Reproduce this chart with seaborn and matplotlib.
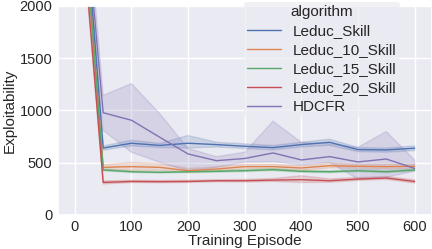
import pandas as pd
import matplotlib
matplotlib.use("Agg")
import matplotlib.pyplot as plt
import seaborn as sns

sns.set_theme(style="darkgrid")
plt.rcParams['font.family'] = ['Liberation Sans', 'DejaVu Sans']

episodes = [0, 50, 100, 150, 200, 250, 300, 350, 400, 450, 500, 550, 600]
algorithms = ['Leduc_Skill', 'Leduc_10_Skill', 'Leduc_15_Skill', 'Leduc_20_Skill', 'HDCFR']

# line value, lower and upper edge of the shaded band
skill_mid = [4100, 640, 686, 665, 686, 673, 657, 644, 673, 695, 625, 622, 638]
skill_lo = [3950, 620, 660, 645, 640, 650, 635, 622, 650, 665, 605, 600, 615]
skill_hi = [4250, 660, 715, 685, 760, 695, 680, 665, 695, 725, 645, 640, 660]

s10_mid = [3950, 455, 462, 455, 423, 439, 462, 462, 449, 471, 465, 462, 465]
s10_lo = [3800, 435, 425, 425, 405, 420, 440, 440, 425, 450, 445, 440, 445]
s10_hi = [4100, 480, 503, 490, 445, 460, 485, 485, 470, 495, 485, 485, 485]

s15_mid = [3950, 430, 413, 407, 413, 417, 423, 433, 417, 413, 423, 413, 430]
s15_lo = [3850, 420, 405, 400, 405, 408, 413, 423, 407, 403, 413, 403, 420]
s15_hi = [4050, 440, 421, 415, 421, 426, 433, 443, 427, 423, 433, 423, 440]

s20_mid = [3600, 311, 320, 318, 320, 327, 327, 333, 337, 327, 343, 353, 320]
s20_lo = [3500, 295, 310, 308, 310, 317, 315, 320, 310, 312, 330, 340, 305]
s20_hi = [3700, 325, 332, 330, 332, 337, 340, 348, 375, 345, 358, 368, 335]

hdcfr_mid = [4000, 978, 906, 743, 583, 519, 540, 593, 526, 558, 507, 535, 445]
hdcfr_lo = [3700, 808, 599, 503, 423, 455, 505, 510, 480, 503, 343, 359, 420]
hdcfr_hi = [4300, 1144, 1257, 968, 635, 558, 600, 897, 695, 680, 647, 798, 526]

series = {
    'Leduc_Skill': (skill_lo, skill_mid, skill_hi),
    'Leduc_10_Skill': (s10_lo, s10_mid, s10_hi),
    'Leduc_15_Skill': (s15_lo, s15_mid, s15_hi),
    'Leduc_20_Skill': (s20_lo, s20_mid, s20_hi),
    'HDCFR': (hdcfr_lo, hdcfr_mid, hdcfr_hi),
}

rows = []
for name in algorithms:
    for run in series[name]:
        for ep, v in zip(episodes, run):
            rows.append({'Training Episode': ep, 'Exploitability': v, 'algorithm': name})
df = pd.DataFrame(rows)

fig = plt.figure(figsize=(4.32, 2.49), dpi=100)
ax = fig.add_axes([0.134, 0.137, 0.865, 0.839])
sns.lineplot(data=df, x='Training Episode', y='Exploitability', hue='algorithm',
             hue_order=algorithms, estimator='median', errorbar=('pi', 100),
             linewidth=1, ax=ax)

ax.set_ylim(0, 2000)
ax.set_yticks([0, 500, 1000, 1500, 2000])
ax.set_xticks([0, 100, 200, 300, 400, 500, 600])
ax.tick_params(labelsize=10.5, length=0, pad=4)
ax.set_xlabel('Training Episode', fontsize=11, labelpad=0)
ax.set_ylabel('Exploitability', fontsize=11, labelpad=2)

ax.legend(title='algorithm', loc='upper right', bbox_to_anchor=(0.935, 1.055),
          fontsize=11, title_fontsize=11, labelspacing=0.33,
          handlelength=2.2, borderpad=0.2, frameon=True,
          facecolor='#EAEAF2', edgecolor='none', framealpha=0.7)

fig.savefig('out.png', dpi=100)
plt.close()
